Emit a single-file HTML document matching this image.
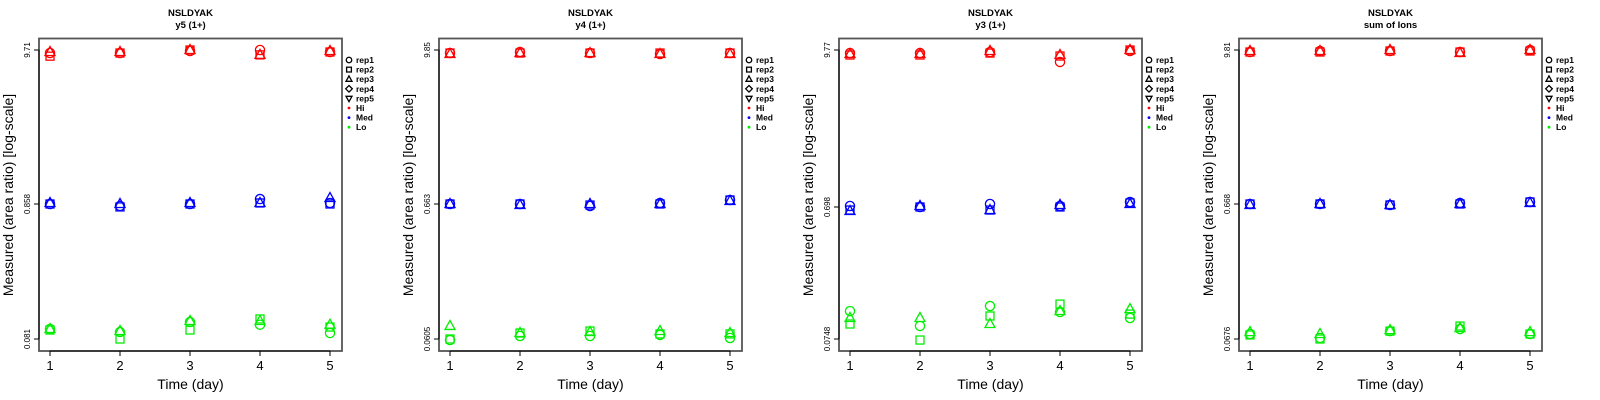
<!DOCTYPE html>
<html><head><meta charset="utf-8"><style>
html,body{margin:0;padding:0;background:#fff;}
svg{display:block;font-family:"Liberation Sans",Arial,sans-serif;}
</style></head><body>
<svg id="chart" width="1600" height="400" viewBox="0 0 1600 400" xmlns="http://www.w3.org/2000/svg"></svg>
<script>
const days = [1,2,3,4,5];
const panelTitles = ["y5 (1+)","y4 (1+)","y3 (1+)","sum of Ions"];
const peptide = "NSLDYAK";
const tickTop = [9.71, 9.85, 9.77, 9.81];
const tickMid = [0.858, 0.663, 0.698, 0.668];
const tickBot = [0.081, 0.0605, 0.0748, 0.0676];
const tickLabels = [["9.71","0.858","0.081"],["9.85","0.663","0.0605"],["9.77","0.698","0.0748"],["9.81","0.668","0.0676"]];
const legendLabels = ["rep1","rep2","rep3","rep4","rep5","Hi","Med","Lo"];
// [rep][day]
const p1Hi = [[9.26,9.26,9.56,9.71,9.41],[8.81,9.26,9.71,8.99,9.41],[9.41,9.41,9.71,8.99,9.56]];
const p1Med = [[0.858,0.829,0.858,0.928,0.872],[0.858,0.815,0.858,0.872,0.858],[0.872,0.858,0.872,0.872,0.943]];
const p1Lo = [[0.0965,0.0915,0.109,0.104,0.0899],[0.0948,0.081,0.0948,0.115,0.0998],[0.0965,0.0932,0.111,0.111,0.104]];
const p2Hi = [[9.34,9.51,9.34,9.18,9.34],[9.34,9.34,9.34,9.34,9.34],[9.18,9.34,9.34,9.18,9.18]];
const p2Med = [[0.663,0.663,0.640,0.675,0.711],[0.663,0.663,0.651,0.663,0.711],[0.663,0.651,0.663,0.663,0.699]];
const p2Lo = [[0.0594,0.0638,0.0638,0.065,0.0616],[0.0605,0.0673,0.0697,0.0662,0.0662],[0.0763,0.0673,0.0685,0.0697,0.0673]];
const p3Hi = [[9.28,9.28,9.44,7.99,9.61],[8.98,8.98,9.28,8.83,9.77],[9.13,9.13,9.61,8.98,9.77]];
const p3Med = [[0.710,0.698,0.734,0.710,0.759],[0.663,0.698,0.663,0.698,0.747],[0.652,0.710,0.663,0.722,0.734]];
const p3Lo = [[0.120,0.0933,0.1307,0.118,0.1067],[0.0964,0.0735,0.1104,0.135,0.114],[0.1067,0.1067,0.0964,0.120,0.124]];
const p4Hi = [[9.47,9.64,9.64,9.47,9.81],[9.47,9.47,9.64,9.47,9.64],[9.64,9.64,9.81,9.31,9.81]];
const p4Med = [[0.668,0.668,0.657,0.680,0.692],[0.668,0.668,0.657,0.668,0.692],[0.657,0.668,0.657,0.668,0.680]];
const p4Lo = [[0.0736,0.0688,0.0773,0.080,0.0736],[0.0724,0.0676,0.0773,0.0842,0.0736],[0.0760,0.0736,0.0786,0.0814,0.0760]];

const hiData = [p1Hi,p2Hi,p3Hi,p4Hi];
const medData = [p1Med,p2Med,p3Med,p4Med];
const loData = [p1Lo,p2Lo,p3Lo,p4Lo];
const groupColors = ["#ff0000","#0000ff","#00ee00"];
const groupNames = ["hi","med","lo"];

const NS = "http://www.w3.org/2000/svg";
const svg = document.getElementById("chart");
function mk(tag, attrs, parent, text){
  const e = document.createElementNS(NS, tag);
  for (const k in attrs) e.setAttribute(k, attrs[k]);
  if (text !== undefined) e.textContent = text;
  (parent||svg).appendChild(e);
  return e;
}
const yTop = 50, yBot = 339;
const yMidPx = [204, 204, 207, 204];
function xScale(p, d){ return p*400 + 50 + (d-1)*70; }
function yScale(p, v){
  const lt = Math.log10(tickTop[p]), lm = Math.log10(tickMid[p]), lb = Math.log10(tickBot[p]);
  const lv = Math.log10(v);
  if (lv >= lm) return yTop + (lt - lv)/(lt - lm)*(yMidPx[p]-yTop);
  return yMidPx[p] + (lm - lv)/(lm - lb)*(yBot - yMidPx[p]);
}
function marker(g, shape, cx, cy, col, s, sw){
  if (shape===0) return mk("circle",{cx:cx,cy:cy,r:4.6*s,fill:"none",stroke:col,"stroke-width":sw},g);
  if (shape===1) return mk("rect",{x:cx-4*s,y:cy-4*s,width:8*s,height:8*s,fill:"none",stroke:col,"stroke-width":sw},g);
  if (shape===2) return mk("polygon",{points:`${cx},${cy-5.5*s} ${cx+5*s},${cy+3.5*s} ${cx-5*s},${cy+3.5*s}`,fill:"none",stroke:col,"stroke-width":sw},g);
  if (shape===3) return mk("polygon",{points:`${cx},${cy-5.5*s} ${cx+5.5*s},${cy} ${cx},${cy+5.5*s} ${cx-5.5*s},${cy}`,fill:"none",stroke:col,"stroke-width":sw},g);
  return mk("polygon",{points:`${cx},${cy+5.5*s} ${cx+5*s},${cy-3.5*s} ${cx-5*s},${cy-3.5*s}`,fill:"none",stroke:col,"stroke-width":sw},g);
}

for (let p=0; p<4; p++){
  const ox = p*400;
  const g = mk("g",{});
  
  
  const t1 = mk("text",{x:ox+190.5,y:16,"text-anchor":"middle","font-size":"9.5","font-weight":"bold"},g,peptide);
  
  
  const t2 = mk("text",{x:ox+190.5,y:28,"text-anchor":"middle","font-size":"9.5","font-weight":"bold"},g,panelTitles[p]);
  
  
  const box = mk("rect",{x:ox+39,y:38.5,width:303,height:312.5,fill:"none",stroke:"#555","stroke-width":1.8},g);
  
  
  days.forEach(d=>{
    const x = xScale(p,d);
    mk("line",{x1:x,y1:351,x2:x,y2:356,stroke:"#000","stroke-width":1},g);
    const tl = mk("text",{x:x,y:370,"text-anchor":"middle","font-size":"13"},g,String(d));
    
    
  });
  mk("line",{x1:xScale(p,1),y1:351,x2:xScale(p,5),y2:351,stroke:"#000","stroke-width":1},g);
  const xt = mk("text",{x:ox+190.5,y:389,"text-anchor":"middle","font-size":"14"},g,"Time (day)");
  
  
  const tv = [tickTop[p], tickMid[p], tickBot[p]];
  tv.forEach((v,i)=>{
    const y = yScale(p,v);
    mk("line",{x1:ox+34,y1:y,x2:ox+39,y2:y,stroke:"#000","stroke-width":1},g);
    const yl = mk("text",{x:ox+30,y:y,"text-anchor":"middle","font-size":"8",transform:`rotate(-90 ${ox+30} ${y})`},g,tickLabels[p][i]);
    
    
  });
  mk("line",{x1:ox+39,y1:yTop,x2:ox+39,y2:yBot,stroke:"#000","stroke-width":1},g);
  const yt = mk("text",{x:ox+13,y:195,"text-anchor":"middle","font-size":"14",transform:`rotate(-90 ${ox+13} 195)`},g,"Measured (area ratio) [log-scale]");
  
  
  const groups = [hiData[p], medData[p], loData[p]];
  groups.forEach((gd,gi)=>{
    gd.forEach((reps,r)=>{
      reps.forEach((v,di)=>{
        const m = marker(g, r, xScale(p,days[di]), yScale(p,v), groupColors[gi], 1, 1.3);
        
        
      });
    });
  });
  const lg = mk("g",{},g);
  
  
  legendLabels.forEach((lab,i)=>{
    const y = 60 + i*9.6;
    if (i<5) marker(lg, i, ox+349, y, "#000", 0.6, 1.3);
    else mk("circle",{cx:ox+349,cy:y,r:1.4,fill:groupColors[i-5]},lg);
    const lt = mk("text",{x:ox+356,y:y+3,"font-size":"8.5","font-weight":"bold"},lg,lab);
    
    
  });
}
</script>
</body></html>
